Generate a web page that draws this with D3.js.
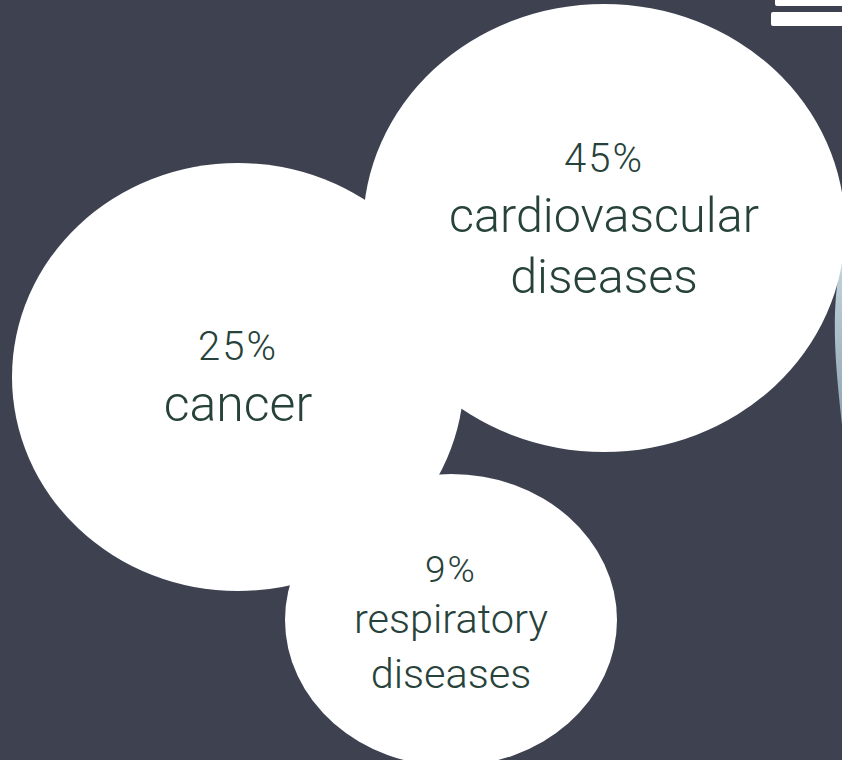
<!DOCTYPE html>
<html>
<head>
<meta charset="utf-8">
<script src="https://cdn.jsdelivr.net/npm/d3@7"></script>
<style>
  html, body { margin: 0; padding: 0; background: #3d4150; overflow: hidden; }
  svg { display: block; }
</style>
</head>
<body>
<div id="chart"></div>
<script>
// ---- data ----
const categories = ["cardiovascular diseases", "cancer", "respiratory diseases"];
const shares = [45, 25, 9];
const labelLines = [["cardiovascular", "diseases"], ["cancer"], ["respiratory", "diseases"]];

// ---- layout (presentation only) ----
const W = 842, H = 760;
const bubbles = [
  { cx: 604, cy: 228, rx: 241, ry: 224, pctY: 172, lineY: [232, 293], pctSize: 40, labelSize: 48.5, order: 1 },
  { cx: 238, cy: 377, rx: 226, ry: 214, pctY: 360, lineY: [421], pctSize: 40, labelSize: 50, order: 0 },
  { cx: 451, cy: 620, rx: 166, ry: 146, pctY: 582, lineY: [633, 688], pctSize: 37, labelSize: 41.5, order: 2 }
];
const bg = "#3d4150", bubbleFill = "#ffffff", textColor = "#27423a";

const svg = d3.select("#chart").append("svg")
  .attr("width", W).attr("height", H)
  .attr("viewBox", `0 0 ${W} ${H}`);

svg.append("rect").attr("width", W).attr("height", H).attr("fill", bg);

// decorative edge shapes (partial image at right edge)
const defs = svg.append("defs");
const grad = defs.append("linearGradient").attr("id", "sliver")
  .attr("x1", 0).attr("y1", 0).attr("x2", 0).attr("y2", 1);
grad.append("stop").attr("offset", "0%").attr("stop-color", "#c3d3dc");
grad.append("stop").attr("offset", "100%").attr("stop-color", "#8ea4b2");
svg.append("path")
  .attr("d", d3.line().curve(d3.curveBasis)([[842, 262], [837, 280], [834, 320], [836, 370], [842, 425]]) + "Z")
  .attr("fill", "url(#sliver)");

// top-right icon fragments
svg.append("rect").attr("x", 775).attr("y", -6).attr("width", 80).attr("height", 12).attr("rx", 2).attr("fill", "#ffffff");
svg.append("rect").attr("x", 771).attr("y", 12).attr("width", 80).attr("height", 14).attr("rx", 2).attr("fill", "#ffffff");

const data = categories.map((c, i) => ({ category: c, share: shares[i], lines: labelLines[i], ...bubbles[i] }));

const drawOrder = data.slice().sort((a, b) => a.order - b.order);

svg.selectAll("ellipse.bubble").data(drawOrder).join("ellipse")
  .attr("class", "bubble")
  .attr("cx", d => d.cx).attr("cy", d => d.cy)
  .attr("rx", d => d.rx).attr("ry", d => d.ry)
  .attr("fill", bubbleFill);

const fmt = d => d3.format("d")(d) + "%";

const labels = svg.selectAll("g.label").data(data).join("g").attr("class", "label");

labels.append("text")
  .attr("x", d => d.cx).attr("y", d => d.pctY)
  .attr("text-anchor", "middle")
  .attr("font-family", "Roboto, 'Open Sans', sans-serif")
  .attr("font-weight", 300)
  .attr("font-size", d => d.pctSize)
  .attr("letter-spacing", 2)
  .attr("fill", textColor)
  .text(d => fmt(d.share));

labels.each(function(d) {
  d3.select(this).selectAll("text.line").data(d.lines).join("text")
    .attr("class", "line")
    .attr("x", d.cx)
    .attr("y", (t, j) => d.lineY[j])
    .attr("text-anchor", "middle")
    .attr("font-family", "Roboto, 'Open Sans', sans-serif")
    .attr("font-weight", 300)
    .attr("font-size", d.labelSize)
    .attr("fill", textColor)
    .text(t => t);
});
</script>
</body>
</html>
